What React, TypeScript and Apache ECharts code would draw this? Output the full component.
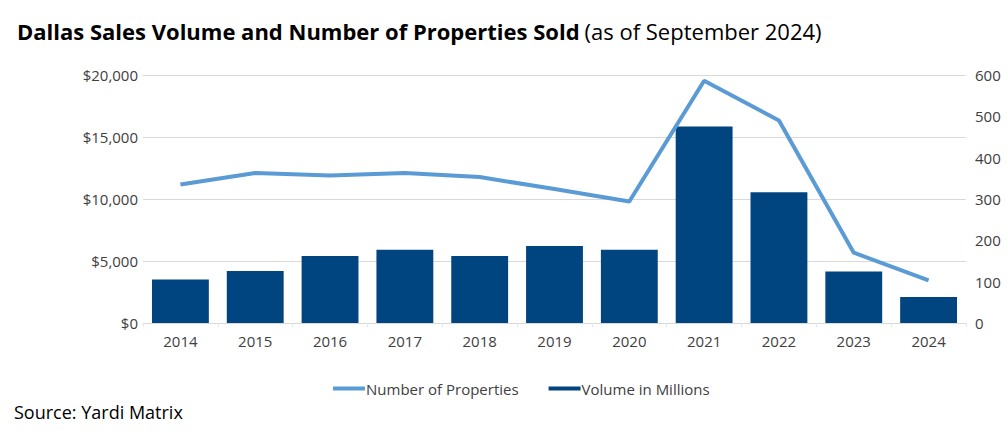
import React, { useEffect, useRef } from "react";
import * as echarts from "echarts";

const years = ["2014", "2015", "2016", "2017", "2018", "2019", "2020", "2021", "2022", "2023", "2024"];
const volumeMillions = [3500, 4200, 5400, 5900, 5400, 6200, 5900, 15850, 10550, 4150, 2100];
const propertiesSold = [335, 363, 357, 363, 353, 324, 294, 586, 490, 170, 103];

const FONT = "'Open Sans', Lato, sans-serif";
const TEXT = "#404040";
const LINE_COLOR = "#5b9bd5";
const BAR_COLOR = "#00457f";

export default function App() {
  const ref = useRef<HTMLDivElement>(null);

  useEffect(() => {
    if (!ref.current) return;
    const chart = echarts.init(ref.current, undefined, { renderer: "svg" });
    chart.setOption({
      animation: false,
      backgroundColor: "#ffffff",
      title: {
        left: 12,
        top: 15,
        text: "{b|Dallas Sales Volume and Number of Properties Sold} {n|(as of September 2024)}",
        textStyle: {
          rich: {
            b: { fontFamily: FONT, fontWeight: "bold", fontSize: 22, color: "#000000" },
            n: { fontFamily: FONT, fontWeight: "normal", fontSize: 22, color: "#000000" },
          },
        },
      },
      graphic: [
        {
          type: "text",
          left: 14,
          top: 403,
          style: { text: "Source: Yardi Matrix", font: `18px ${FONT}`, fill: "#000000" },
        },
      ],
      legend: {
        bottom: 32,
        left: 328,
        itemGap: 30,
        itemWidth: 32,
        itemHeight: 4,
        icon: "rect",
        textStyle: { fontFamily: FONT, fontSize: 15, color: TEXT, padding: [0, 0, 0, -4] },
        data: ["Number of Properties", "Volume in Millions"],
      },
      grid: { left: 143, right: 41, top: 75, bottom: 110 },
      xAxis: {
        type: "category",
        data: years,
        axisLine: { lineStyle: { color: "#d9d9d9" } },
        axisTick: { show: true, length: 4, lineStyle: { color: "#e6e6e6" } },
        axisLabel: { color: TEXT, fontFamily: FONT, fontSize: 15, margin: 10 },
      },
      yAxis: [
        {
          type: "value",
          min: 0,
          max: 20000,
          interval: 5000,
          axisLine: { show: false },
          axisTick: { show: false },
          splitLine: { lineStyle: { color: "#d9d9d9" } },
          axisLabel: {
            color: TEXT,
            fontFamily: FONT,
            fontSize: 15,
            margin: 5,
            formatter: (v: number) => "$" + v.toLocaleString("en-US"),
          },
        },
        {
          type: "value",
          min: 0,
          max: 600,
          interval: 100,
          position: "right",
          axisLine: { show: false },
          axisTick: { show: false },
          splitLine: { show: false },
          axisLabel: { color: TEXT, fontFamily: FONT, fontSize: 15, margin: 9 },
        },
      ],
      series: [
        {
          name: "Volume in Millions",
          type: "bar",
          yAxisIndex: 0,
          data: volumeMillions,
          barCategoryGap: "24%",
          itemStyle: { color: BAR_COLOR },
        },
        {
          name: "Number of Properties",
          type: "line",
          yAxisIndex: 1,
          data: propertiesSold,
          symbol: "none",
          lineStyle: { color: LINE_COLOR, width: 4 },
          itemStyle: { color: LINE_COLOR },
          z: 3,
        },
      ],
    });
    return () => chart.dispose();
  }, []);

  return (
    <div
      ref={ref}
      style={{ position: "fixed", left: 0, top: 0, width: 1007, height: 433 }}
    />
  );
}
